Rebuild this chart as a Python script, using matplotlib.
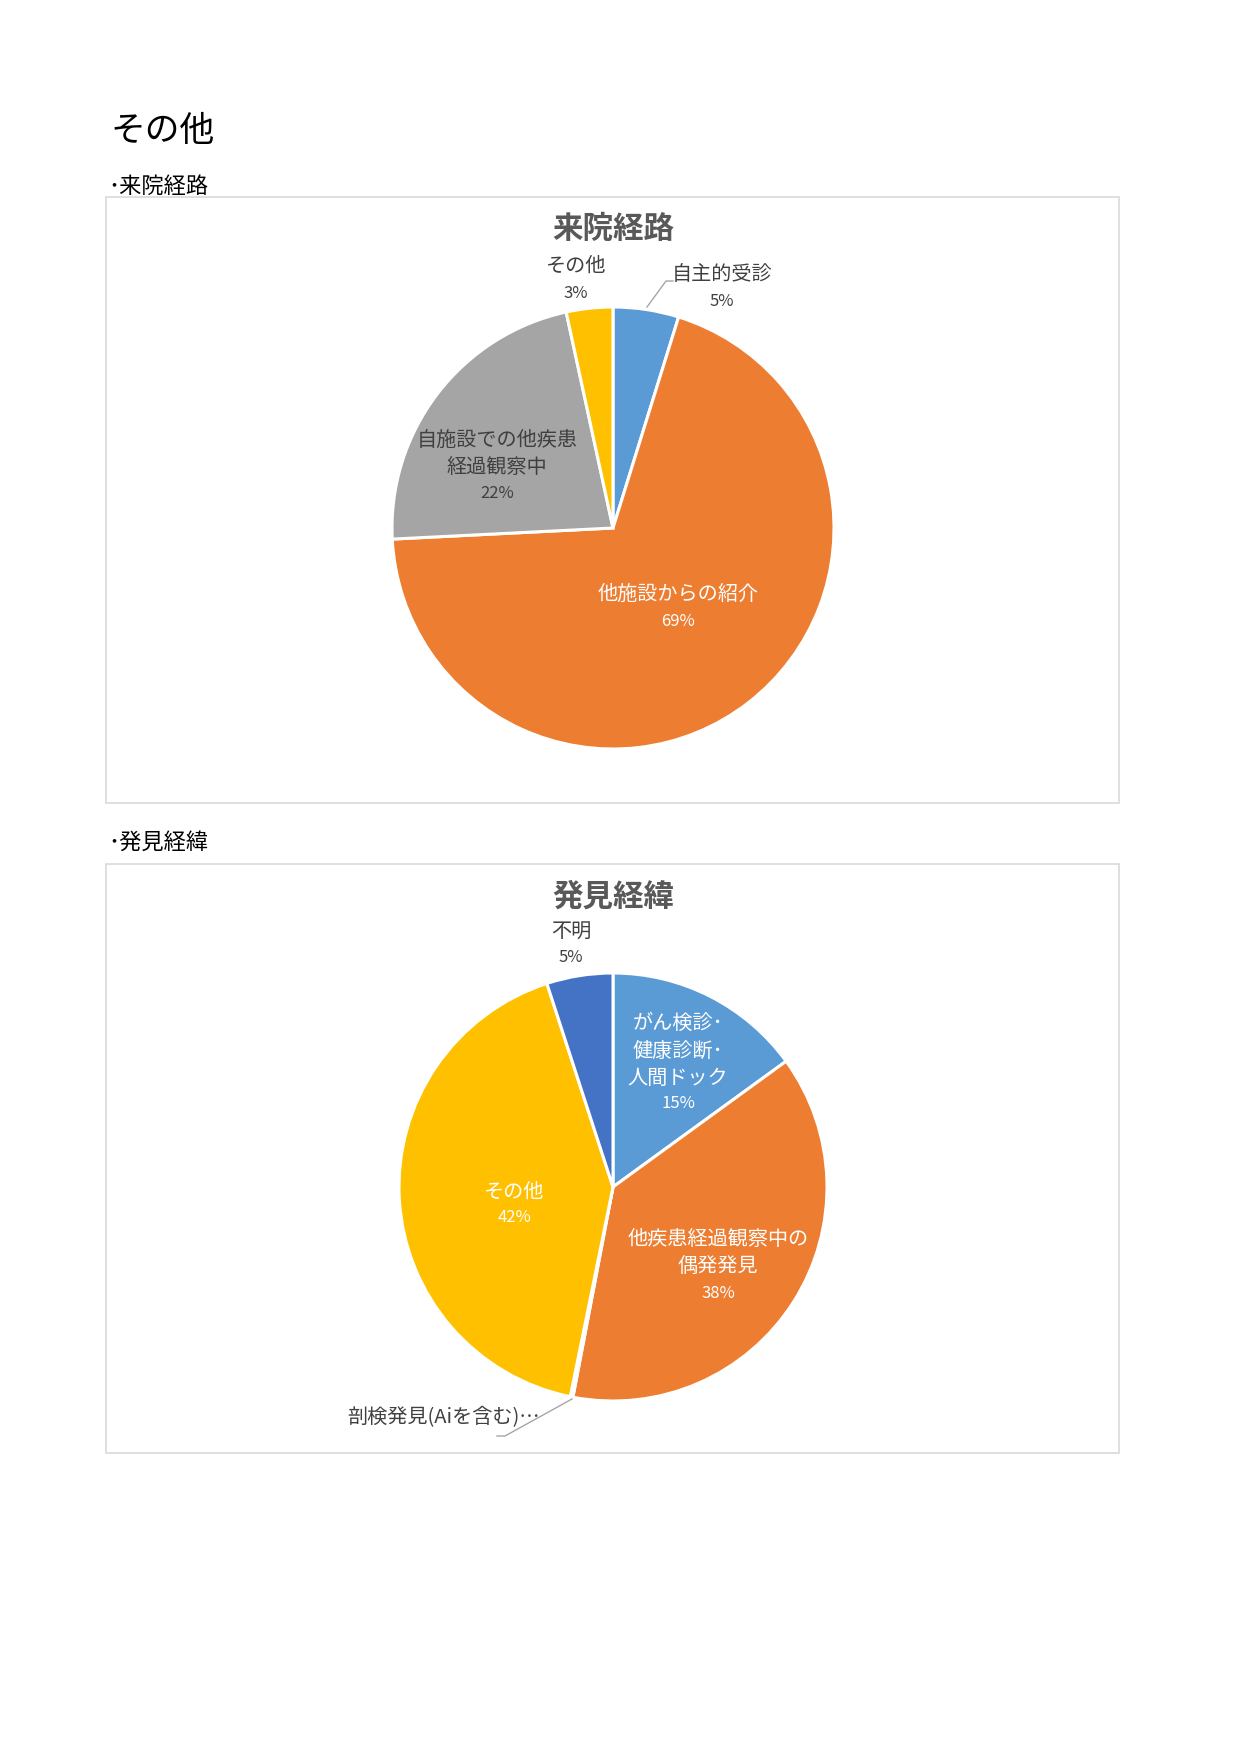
import matplotlib.pyplot as plt
from matplotlib.patches import Rectangle

plt.rcParams['font.family'] = ['Noto Sans CJK JP', 'DejaVu Sans']

# 来院経路
route_labels = ['自主的受診', '他施設からの紹介', '自施設での他疾患\n経過観察中', 'その他']
route_values = [4.8, 69.4, 22.4, 3.4]
route_colors = ['#5B9BD5', '#ED7D31', '#A5A5A5', '#FFC000']

# 発見経緯
find_labels = ['がん検診･\n健康診断･\n人間ドック', '他疾患経過観察中の\n偶発発見',
               '剖検発見(Aiを含む)…', 'その他', '不明']
find_values = [15.0, 38.0, 0.2, 41.8, 5.0]
find_colors = ['#5B9BD5', '#ED7D31', '#A5A5A5', '#FFC000', '#4472C4']

W, H = 1240, 1754
fig = plt.figure(figsize=(12.4, 17.54), dpi=100)
ax = fig.add_axes([0, 0, 1, 1])


def Y(y):
    return H - y


def pct(vals, i):
    return f"{vals[i] / sum(vals) * 100:.0f}%"


# page headings
ax.text(110, Y(132), 'その他', fontsize=25, va='center', ha='left', color='black')
ax.text(108, Y(186), '･来院経路', fontsize=16, va='center', ha='left', color='black')
ax.text(108, Y(842), '･発見経緯', fontsize=16, va='center', ha='left', color='black')

# chart frames
for top, bot in [(197, 803), (864, 1453)]:
    ax.add_patch(Rectangle((106, Y(bot)), 1013, bot - top, fill=False,
                           edgecolor='#D9D9D9', lw=1.2))

title_kw = dict(fontsize=22, fontweight='bold', color='#595959', ha='center', va='center')
lab_kw = dict(fontsize=14.5, ha='center', va='center', linespacing=1.4)
pct_kw = dict(fontsize=12, ha='center', va='center')
dark = '#404040'

# ---- chart 1 ----
ax.text(613, Y(229), '来院経路', **title_kw)
ax.pie(route_values, colors=route_colors, startangle=90, counterclock=False,
       center=(613, Y(528)), radius=221,
       wedgeprops=dict(edgecolor='white', linewidth=2.2))

ax.text(722, Y(275), route_labels[0], color=dark, **lab_kw)
ax.text(722, Y(302), pct(route_values, 0), color=dark, **pct_kw)
ax.plot([647, 666, 673], [Y(307), Y(281), Y(281)], color='#A6A6A6', lw=1)
ax.text(678, Y(594), route_labels[1], color='white', **lab_kw)
ax.text(678, Y(621), pct(route_values, 1), color='white', **pct_kw)
ax.text(497, Y(454), route_labels[2], color=dark, **lab_kw)
ax.text(497, Y(494), pct(route_values, 2), color=dark, **pct_kw)
ax.text(576, Y(266), route_labels[3], color=dark, **lab_kw)
ax.text(576, Y(293), pct(route_values, 3), color=dark, **pct_kw)

# ---- chart 2 ----
ax.text(613, Y(897), '発見経緯', **title_kw)
ax.pie(find_values, colors=find_colors, startangle=90, counterclock=False,
       center=(613, Y(1187)), radius=214,
       wedgeprops=dict(edgecolor='white', linewidth=2.2))

ax.text(678, Y(1051), find_labels[0], color='white', **lab_kw)
ax.text(678, Y(1104), pct(find_values, 0), color='white', **pct_kw)
ax.text(718, Y(1253), find_labels[1], color='white', **lab_kw)
ax.text(718, Y(1294), pct(find_values, 1), color='white', **pct_kw)
ax.text(444, Y(1418), find_labels[2], color=dark, **lab_kw)
ax.plot([572, 505, 497], [Y(1399), Y(1436), Y(1436)], color='#A6A6A6', lw=1)
ax.text(514, Y(1192), find_labels[3], color='white', **lab_kw)
ax.text(514, Y(1218), pct(find_values, 3), color='white', **pct_kw)
ax.text(571, Y(931), find_labels[4], color=dark, **lab_kw)
ax.text(571, Y(958), pct(find_values, 4), color=dark, **pct_kw)

ax.set_xlim(0, W)
ax.set_ylim(0, H)
ax.set_aspect('equal')
ax.axis('off')

fig.savefig('out.png', dpi=100, facecolor='white')
